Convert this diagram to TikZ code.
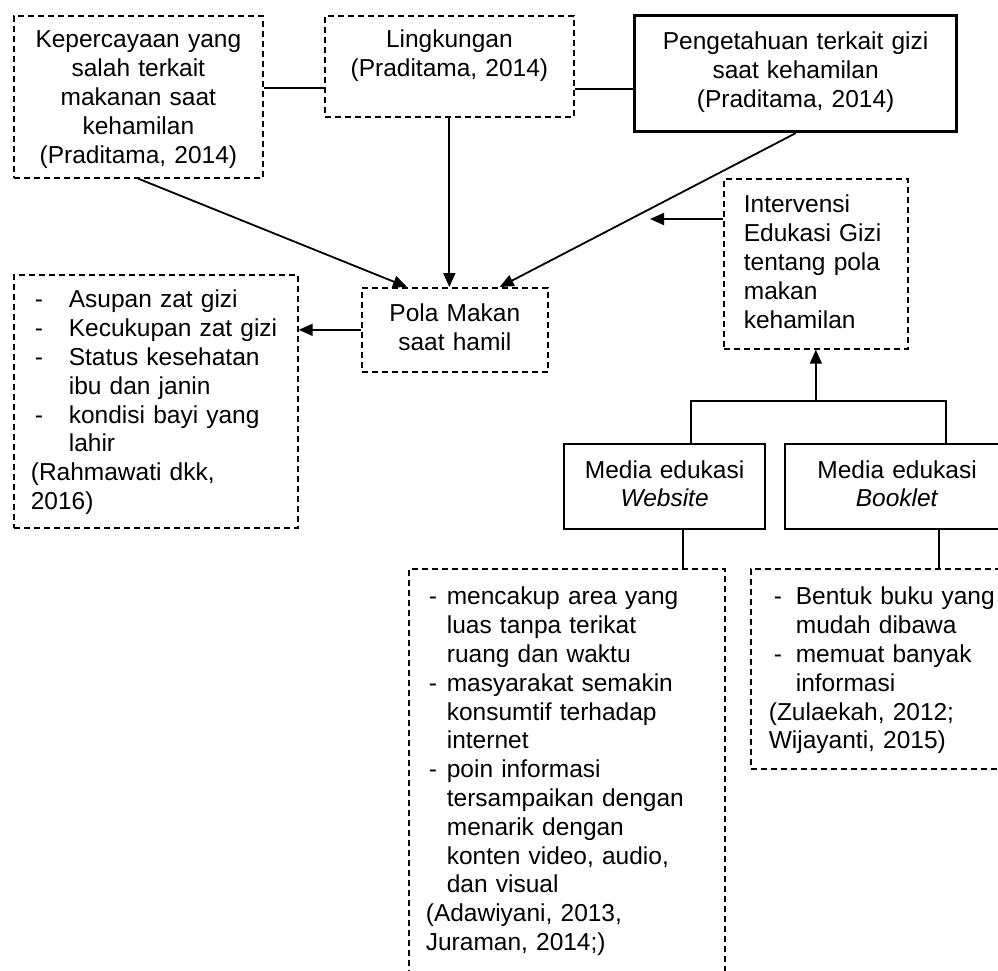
\documentclass[tikz,border=0pt]{standalone}
\usepackage{fontspec}
\setmainfont{Liberation Sans}
\usetikzlibrary{arrows.meta}
\newcommand{\butir}[2]{\makebox[#2][l]{\hspace*{#1}-}}

\begin{document}
\begin{tikzpicture}[x=1pt, y=-1pt, font=\fontsize{24.5pt}{28.8pt}\selectfont,
    >={Triangle[length=14pt, width=12pt]},
    garis/.style={line width=1.8pt},
    putus/.style={draw, line width=1.7pt, dash pattern=on 6pt off 4pt, inner sep=0pt, anchor=north west},
    tegas/.style={draw, line width=2.2pt, inner sep=0pt, anchor=north west}]
  \useasboundingbox (0,0) rectangle (998,970);
  \clip (0,0) rectangle (998,970);
  % baris atas
  \node[putus, text width=249pt, align=center, text height=32pt, text depth=130pt] (kepercayaan) at (13,15)
    {Kepercayaan yang\\salah terkait\\makanan saat\\kehamilan\\(Praditama, 2014)};
  \node[putus, text width=249pt, align=center, text height=32pt, text depth=69pt] (lingkungan) at (324,15)
    {Lingkungan\\(Praditama, 2014)};
  \node[tegas, line width=3.2pt, text width=322pt, align=center, text height=34pt, text depth=82pt] (pengetahuan) at (633,14)
    {Pengetahuan terkait gizi\\saat kehamilan\\(Praditama, 2014)};
  % tengah
  \node[putus, text width=186pt, align=center, text height=34pt, text depth=50pt] (pola) at (361,287)
    {Pola Makan\\saat hamil};
  \node[putus, text width=284pt, align=left, text height=33pt, text depth=220pt] (dampak) at (13,274)
    {\butir{21pt}{55pt}Asupan zat gizi\\
     \butir{21pt}{55pt}Kecukupan zat gizi\\
     \butir{21pt}{55pt}Status kesehatan\\
     \hspace*{55pt}ibu dan janin\\
     \butir{21pt}{55pt}kondisi bayi yang\\
     \hspace*{55pt}lahir\\
     \hspace*{17pt}(Rahmawati dkk,\\
     \hspace*{17pt}2016)};
  \node[putus, inner xsep=20pt, text width=144pt, align=left, text height=34pt, text depth=136pt] (intervensi) at (723,178)
    {Intervensi\\Edukasi Gizi\\tentang pola\\makan\\kehamilan};
  % media
  \node[tegas, text width=201pt, align=center, text height=34pt, text depth=51pt] (website) at (563,443)
    {Media edukasi\\\textit{Website}};
  \node[tegas, text width=224pt, align=center, text height=34pt, text depth=51pt] (booklet) at (784,443)
    {Media edukasi\\\textit{Booklet}};
  \node[putus, text width=316pt, align=left, text height=36pt, text depth=381pt] (ketwebsite) at (408,568)
    {\butir{20pt}{38pt}mencakup area yang\\
     \hspace*{38pt}luas tanpa terikat\\
     \hspace*{38pt}ruang dan waktu\\
     \butir{20pt}{38pt}masyarakat semakin\\
     \hspace*{38pt}konsumtif terhadap\\
     \hspace*{38pt}internet\\
     \butir{20pt}{38pt}poin informasi\\
     \hspace*{38pt}tersampaikan dengan\\
     \hspace*{38pt}menarik dengan\\
     \hspace*{38pt}konten video, audio,\\
     \hspace*{38pt}dan visual\\
     \hspace*{17pt}(Adawiyani, 2013,\\
     \hspace*{17pt}Juraman, 2014;)};
  \node[putus, text width=260pt, align=left, text height=36pt, text depth=164pt] (ketbooklet) at (750,568)
    {\butir{23pt}{45pt}Bentuk buku yang\\
     \hspace*{45pt}mudah dibawa\\
     \butir{23pt}{45pt}memuat banyak\\
     \hspace*{45pt}informasi\\
     \hspace*{18pt}(Zulaekah, 2012;\\
     \hspace*{18pt}Wijayanti, 2015)};
  % penghubung
  \draw[garis] ([yshift=9pt]kepercayaan.east) -- ([yshift=9pt]kepercayaan.east -| lingkungan.west);
  \draw[garis] ([yshift=-22.5pt]lingkungan.east) -- ([yshift=-22.5pt]lingkungan.east -| pengetahuan.west);
  \draw[garis, ->] (kepercayaan.south) -- ([xshift=46pt]pola.north west);
  \draw[garis, ->] (lingkungan.south) -- (lingkungan.south |- pola.north);
  \draw[garis, ->] (pengetahuan.south) -- ([xshift=-49pt]pola.north east);
  \draw[garis, ->] (pola.west) -- (pola.west -| dampak.east);
  \coordinate (ujung) at (650,219);
  \draw[garis, ->] (ujung -| intervensi.west) -- (ujung);
  \coordinate (cabangkiri) at (691,401);
  \coordinate (cabangkanan) at (946,401);
  \draw[garis] (cabangkiri |- website.north) -- (cabangkiri) -- (cabangkanan) -- (cabangkanan |- booklet.north);
  \draw[garis, ->] (intervensi.south |- cabangkiri) -- (intervensi.south);
  \draw[garis] ([xshift=18pt]website.south) -- ([xshift=18pt]website.south |- ketwebsite.north);
  \draw[garis] ([xshift=42pt]booklet.south) -- ([xshift=42pt]booklet.south |- ketbooklet.north);
\end{tikzpicture}
\end{document}
